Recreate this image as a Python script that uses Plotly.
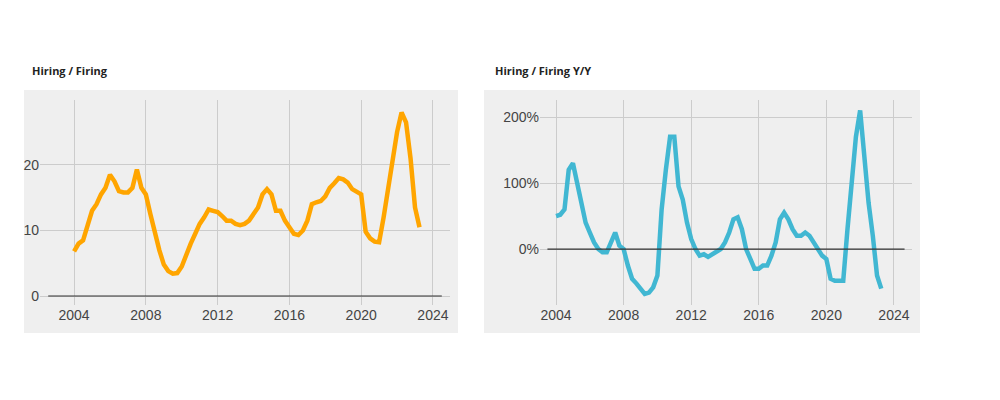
import plotly.graph_objects as go

dates = [2004 + 0.25 * i for i in range(78)]
ratio = [6.8, 8, 8.5, 10.5, 13, 14, 15.5, 16.5, 18.5, 17.5, 16, 15.8, 15.8, 16.5, 19.3, 16.5,
         15.5, 12.5, 9.5, 7, 4.8, 3.8, 3.4, 3.5, 4.5, 6.5, 8, 9.5, 11, 12, 13.2, 13,
         12.8, 12.2, 11.5, 11.5, 11, 10.8, 11, 11.5, 12.5, 13.5, 15.5, 16.3, 15.5, 13, 13, 11.5,
         10.5, 9.5, 9.3, 10, 11.5, 14, 14.3, 14.5, 15.2, 16.5, 17.2, 18, 17.8, 17.3, 16.3, 15.8,
         15.5, 9.8, 8.8, 8.3, 8.2, 12, 16.5, 21.5, 25, 28, 26.5, 21, 13.5, 10.5]
yoy = [50, 52, 60, 120, 130, 100, 70, 40, 25, 10, 0, -5, -5, 10, 25, 5,
       0, -25, -45, -52, -60, -68, -66, -58, -40, 60, 120, 170, 170, 95, 75, 40,
       15, 0, -10, -8, -12, -8, -5, 0, 10, 25, 45, 48, 30, 0, -15, -30,
       -30, -25, -25, -10, 10, 45, 55, 45, 30, 20, 20, 25, 20, 10, 0, -10,
       -15, -45, -48, -48, -48, 30, 100, 170, 210, 140, 70, 20, -40, -60]
titles = ["Hiring / Firing", "Hiring / Firing Y/Y"]
xticks = [2004, 2008, 2012, 2016, 2020, 2024]

dx, dy = -0.008, 0.02

fig = go.Figure()
fig.add_trace(go.Scatter(x=dates, y=ratio, mode="lines", line=dict(color="#FFA500", width=4.5),
                         xaxis="x", yaxis="y", showlegend=False))
fig.add_trace(go.Scatter(x=dates, y=yoy, mode="lines", line=dict(color="#41B7D2", width=4.5),
                         xaxis="x2", yaxis="y2", showlegend=False))
grid = "#cccccc"
tf = dict(family="Liberation Sans, Arial", size=14, color="#444")
common = dict(showgrid=True, gridcolor=grid, gridwidth=1, zeroline=False, ticks="", tickfont=tf, showline=False)
fig.update_layout(
    width=1000, height=400, margin=dict(l=0, r=0, t=0, b=0),
    paper_bgcolor="white", plot_bgcolor="#efefef",
    xaxis=dict(domain=[0.040 + dx, 0.450 + dx], range=[2002.1, 2024.95], tickvals=xticks, anchor="y", **common),
    yaxis=dict(domain=[0.2375 + dy, 0.75 + dy], range=[-1.37, 29.9], tickvals=[0, 10, 20], anchor="x", **common),
    xaxis2=dict(domain=[0.540 + dx, 0.912 + dx], range=[2003.05, 2025.07], tickvals=xticks, anchor="y2", **common),
    yaxis2=dict(domain=[0.2375 + dy, 0.75 + dy], range=[-84.8, 225.8], tickvals=[0, 100, 200],
                ticktext=["0%", "100%", "200%"], anchor="x2", **common),
    shapes=[
        dict(type="rect", xref="paper", yref="paper", x0=0.024 + dx, x1=0.458 + dx, y0=0.1675 + dy, y1=0.775 + dy,
             fillcolor="#efefef", line_width=0, layer="below"),
        dict(type="rect", xref="paper", yref="paper", x0=0.484 + dx, x1=0.920 + dx, y0=0.1675 + dy, y1=0.775 + dy,
             fillcolor="#efefef", line_width=0, layer="below"),
        dict(type="line", xref="x domain", yref="y", x0=0.02, x1=0.98, y0=0, y1=0,
             line=dict(color="#333", width=1.2)),
        dict(type="line", xref="x2 domain", yref="y2", x0=0.02, x1=0.98, y0=0, y1=0,
             line=dict(color="#333", width=1.2)),
    ],
    annotations=[
        dict(text="<b>%s</b>" % titles[0], xref="paper", yref="paper", x=0.030 + dx, y=0.825 + dy,
             xanchor="left", yanchor="middle", showarrow=False,
             font=dict(family="Open Sans", size=11, color="#222")),
        dict(text="<b>%s</b>" % titles[1], xref="paper", yref="paper", x=0.493 + dx, y=0.825 + dy,
             xanchor="left", yanchor="middle", showarrow=False,
             font=dict(family="Open Sans", size=11, color="#222")),
    ],
)
fig.write_html("out.html")
